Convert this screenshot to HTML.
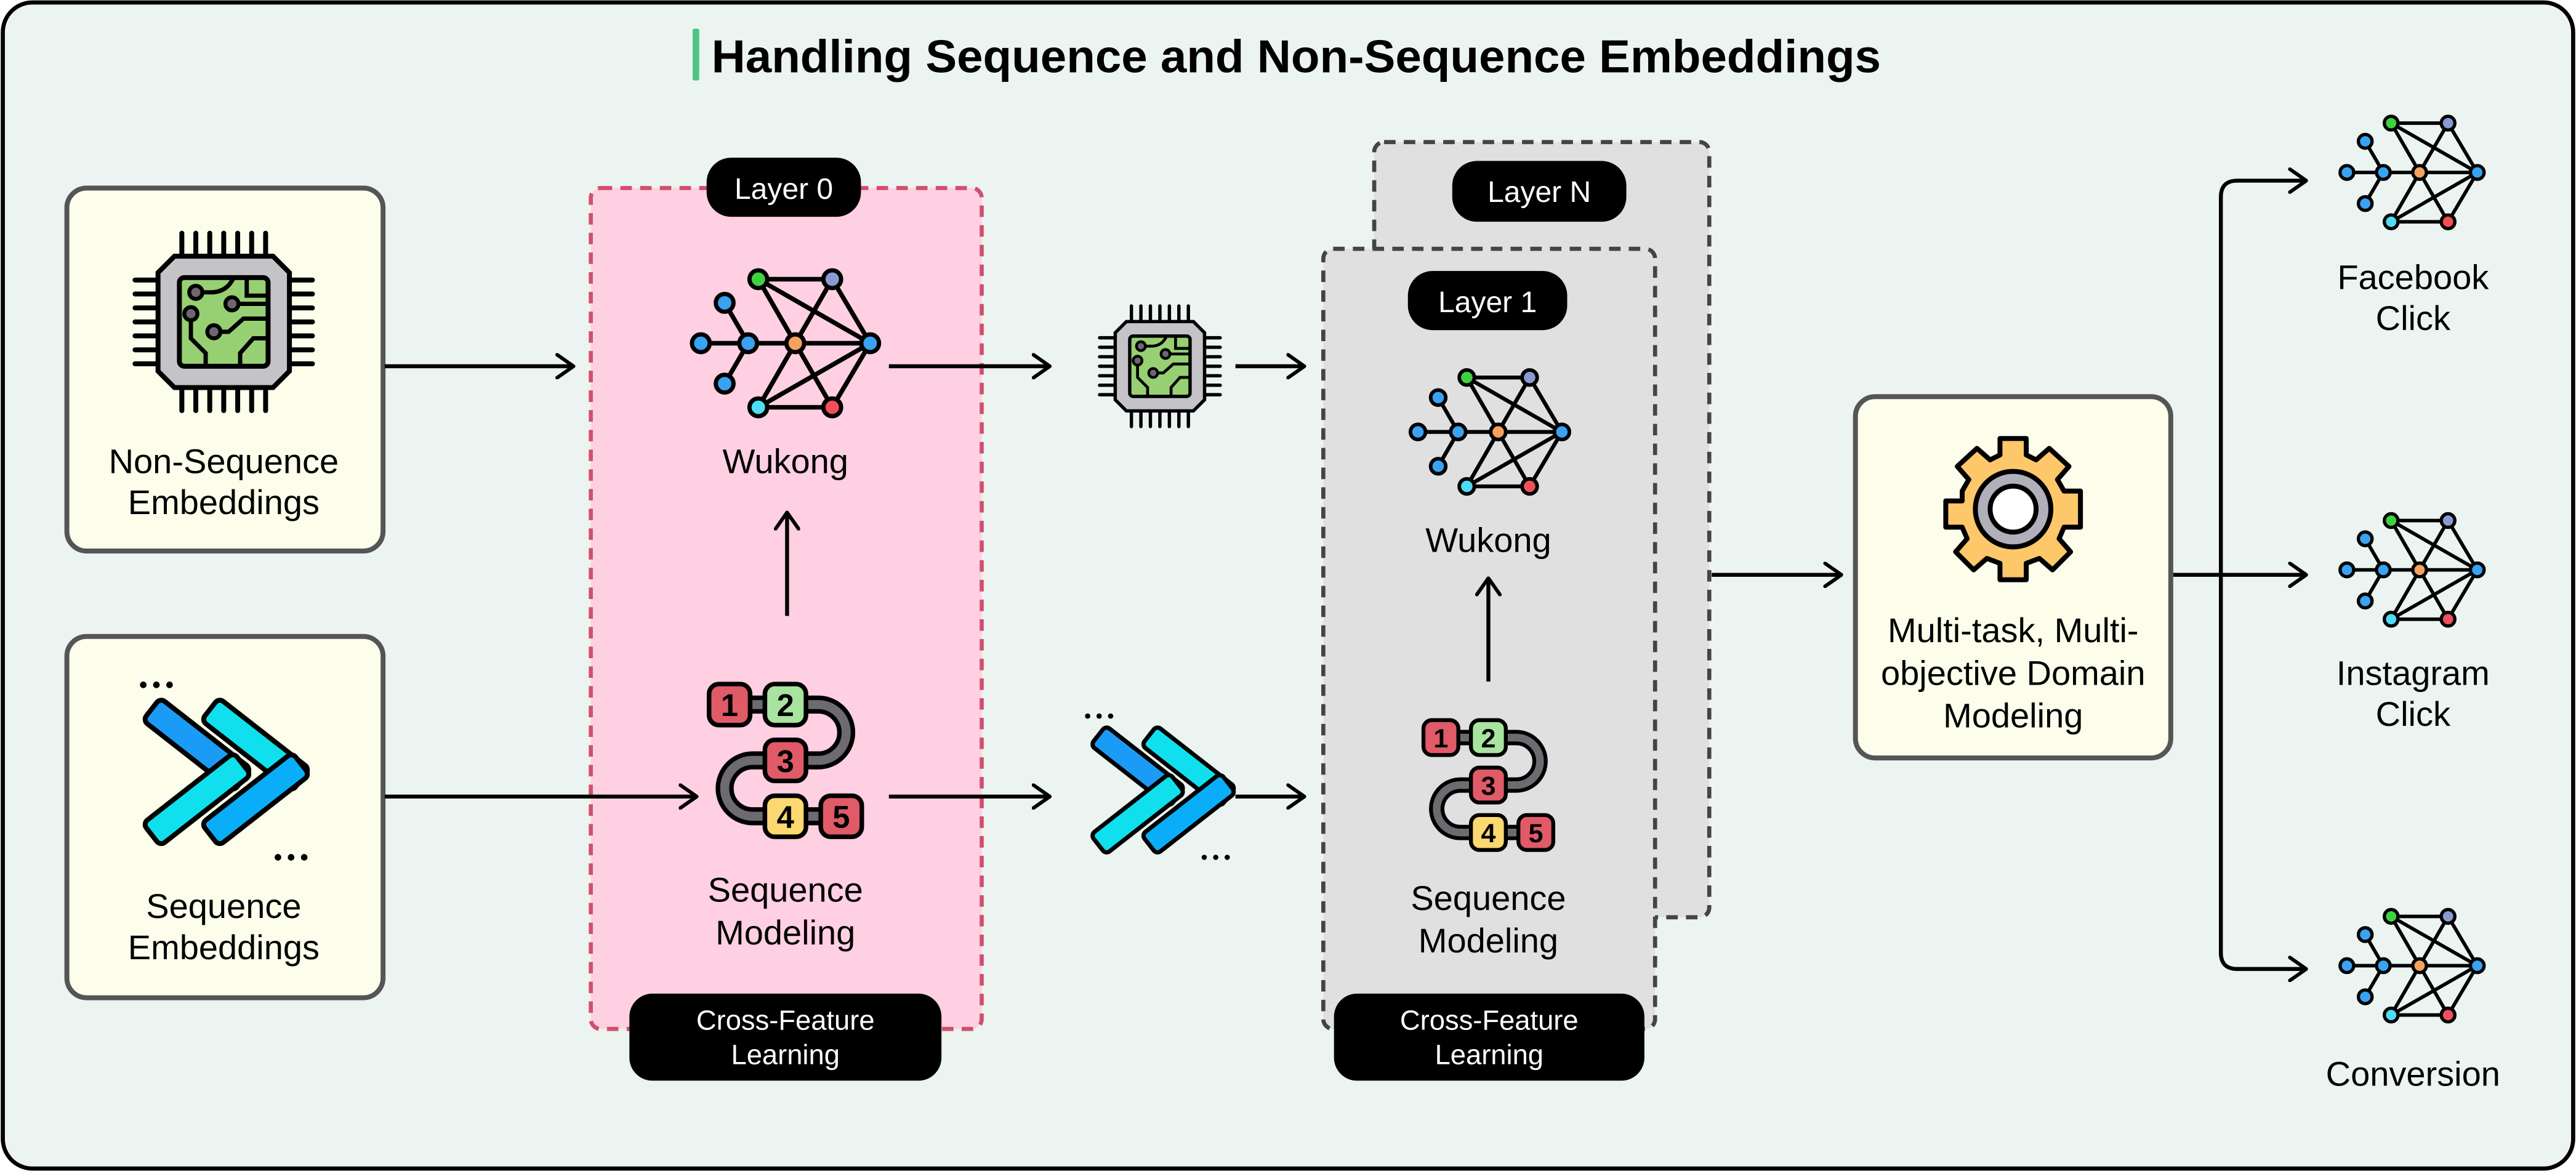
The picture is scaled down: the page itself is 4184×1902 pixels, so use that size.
<!DOCTYPE html>
<html><head><meta charset="utf-8"><style>
html,body{margin:0;padding:0;background:#fff;}
svg{display:block;}
text{font-family:"Liberation Sans",Arial,sans-serif;}
</style></head><body>
<svg width="4184" height="1902" viewBox="0 0 1568 713" xmlns="http://www.w3.org/2000/svg">
<defs>
<g id="net">
  <g stroke="#000" stroke-width="2.8" fill="none" stroke-linecap="round">
    <line x1="-22.5" y1="-39" x2="22.5" y2="-39"/>
    <line x1="-22.5" y1="-39" x2="0" y2="0"/>
    <line x1="-22.5" y1="-39" x2="45.6" y2="0"/>
    <line x1="22.5" y1="-39" x2="0" y2="0"/>
    <line x1="22.5" y1="-39" x2="45.6" y2="0"/>
    <line x1="0" y1="0" x2="45.6" y2="0"/>
    <line x1="0" y1="0" x2="-22.5" y2="39"/>
    <line x1="0" y1="0" x2="22.5" y2="39"/>
    <line x1="-22.5" y1="39" x2="45.6" y2="0"/>
    <line x1="22.5" y1="39" x2="45.6" y2="0"/>
    <line x1="-22.5" y1="39" x2="22.5" y2="39"/>
    <line x1="-28.7" y1="0" x2="0" y2="0"/>
    <line x1="-57.5" y1="0" x2="-28.7" y2="0"/>
    <line x1="-43" y1="-24.6" x2="-28.7" y2="0"/>
    <line x1="-43" y1="24.6" x2="-28.7" y2="0"/>
  </g>
  <g stroke="#000" stroke-width="2.6">
    <circle cx="-22.5" cy="-39" r="5.4" fill="#3fd23f"/>
    <circle cx="22.5" cy="-39" r="5.4" fill="#8a9ad0"/>
    <circle cx="0" cy="0" r="5.4" fill="#f5a260"/>
    <circle cx="45.6" cy="0" r="5.4" fill="#3aa2f2"/>
    <circle cx="-22.5" cy="39" r="5.4" fill="#4fdcf5"/>
    <circle cx="22.5" cy="39" r="5.4" fill="#f0505a"/>
    <circle cx="-28.7" cy="0" r="5.4" fill="#3aa2f2"/>
    <circle cx="-57.5" cy="0" r="5.4" fill="#3aa2f2"/>
    <circle cx="-43" cy="-24.6" r="5.4" fill="#3aa2f2"/>
    <circle cx="-43" cy="24.6" r="5.4" fill="#3aa2f2"/>
  </g>
</g>
<g id="chip">
  <g stroke="#000" stroke-width="3" stroke-linecap="round">
    <line x1="-25.5" y1="-54" x2="-25.5" y2="54"/><line x1="-17" y1="-54" x2="-17" y2="54"/>
    <line x1="-8.5" y1="-54" x2="-8.5" y2="54"/><line x1="0" y1="-54" x2="0" y2="54"/>
    <line x1="8.5" y1="-54" x2="8.5" y2="54"/><line x1="17" y1="-54" x2="17" y2="54"/>
    <line x1="25.5" y1="-54" x2="25.5" y2="54"/>
    <line y1="-25.5" x1="-54" y2="-25.5" x2="54"/><line y1="-17" x1="-54" y2="-17" x2="54"/>
    <line y1="-8.5" x1="-54" y2="-8.5" x2="54"/><line y1="0" x1="-54" y2="0" x2="54"/>
    <line y1="8.5" x1="-54" y2="8.5" x2="54"/><line y1="17" x1="-54" y2="17" x2="54"/>
    <line y1="25.5" x1="-54" y2="25.5" x2="54"/>
  </g>
  <polygon points="-30,-40 30,-40 40,-30 40,30 30,40 -30,40 -40,30 -40,-30" fill="#c4c4c8" stroke="#000" stroke-width="3"/>
  <rect x="-27" y="-27" width="54" height="54" rx="3" fill="#97d072" stroke="#000" stroke-width="3"/>
  <g stroke="#000" stroke-width="2.6" fill="none" stroke-linecap="round">
    <path d="M-17,-18 H-8 Q2,-18 6,-27"/>
    <path d="M14,-27 V-16 H27"/>
    <path d="M5,-11 H27"/>
    <path d="M-20,-5 V10 L-11,19 V27"/>
    <path d="M-6,6 H3 L12,-2 H27"/>
    <path d="M10,27 V19 L18,10 H27"/>
  </g>
  <g fill="#6e6670" stroke="#000" stroke-width="2.4">
    <circle cx="-17" cy="-18" r="4"/><circle cx="5" cy="-11" r="4"/>
    <circle cx="-20" cy="-5" r="4"/><circle cx="-6" cy="6" r="4"/>
  </g>
</g>
<g id="chev">
  <g stroke="#000" stroke-width="2.6" stroke-linejoin="round">
    <rect x="-54" y="-7.5" width="61" height="15" rx="3" fill="#1a9cf6" transform="rotate(38)"/>
    <rect x="-54" y="-7.5" width="61" height="15" rx="3" fill="#10e0ee" transform="rotate(-38)"/>
    <g transform="translate(31,0)">
      <rect x="-54" y="-7.5" width="61" height="15" rx="3" fill="#10e0ee" transform="rotate(38)"/>
      <rect x="-54" y="-7.5" width="61" height="15" rx="3" fill="#0aaef8" transform="rotate(-38)"/>
    </g>
  </g>
</g>
<g id="seq">
  <g fill="none" stroke-linecap="butt">
    <path d="M-34,-34 H20 A17,17 0 0 1 20,0 H-20 A17,17 0 0 0 -20,34 H34" stroke="#000" stroke-width="11"/>
    <path d="M-34,-34 H20 A17,17 0 0 1 20,0 H-20 A17,17 0 0 0 -20,34 H34" stroke="#6e6b70" stroke-width="5.5"/>
  </g>
  <g stroke="#000" stroke-width="2.8">
    <rect x="-46.5" y="-46.5" width="25" height="25" rx="6" fill="#e05a68"/>
    <rect x="-12.5" y="-46.5" width="25" height="25" rx="6" fill="#a8e4a0"/>
    <rect x="-12.5" y="-12.5" width="25" height="25" rx="6" fill="#e05a68"/>
    <rect x="-12.5" y="21.5" width="25" height="25" rx="6" fill="#fcd870"/>
    <rect x="21.5" y="21.5" width="25" height="25" rx="6" fill="#e05a68"/>
  </g>
  <g font-size="19" font-weight="bold" text-anchor="middle" fill="#000">
    <text x="-34" y="-27">1</text><text x="0" y="-27">2</text><text x="0" y="7">3</text>
    <text x="0" y="41">4</text><text x="34" y="41">5</text>
  </g>
</g>
<marker id="ah" viewBox="0 0 12 16" refX="11" refY="8" markerWidth="12" markerHeight="16" markerUnits="userSpaceOnUse" orient="auto">
  <path d="M1,1 L11,8 L1,15" fill="none" stroke="#000" stroke-width="2.2" stroke-linecap="round" stroke-linejoin="round"/>
</marker>
</defs>

<rect x="1.5" y="1.5" width="1565" height="710" rx="18" fill="#ebf4f0" stroke="#000" stroke-width="2.5"/>

<rect x="421.5" y="17.5" width="4" height="31.5" rx="1" fill="#4fc286"/>
<text x="433" y="44" font-size="28" font-weight="bold" textLength="712" lengthAdjust="spacingAndGlyphs">Handling Sequence and Non-Sequence Embeddings</text>

<rect x="40.5" y="114.5" width="192.5" height="221" rx="12" fill="#fdfdec" stroke="#555" stroke-width="3"/>
<rect x="40.5" y="387.5" width="192.5" height="220" rx="12" fill="#fdfdec" stroke="#555" stroke-width="3"/>
<use href="#chip" transform="translate(136,196)"/>
<text x="136" y="288" font-size="21" text-anchor="middle">Non-Sequence</text>
<text x="136" y="313" font-size="21" text-anchor="middle">Embeddings</text>
<use href="#chev" transform="translate(141,470) scale(1.15)"/>
<g fill="#000"><circle cx="87" cy="417" r="2"/><circle cx="95" cy="417" r="2"/><circle cx="103" cy="417" r="2"/>
<circle cx="169" cy="522" r="2"/><circle cx="177" cy="522" r="2"/><circle cx="185" cy="522" r="2"/></g>
<text x="136" y="559" font-size="21" text-anchor="middle">Sequence</text>
<text x="136" y="584" font-size="21" text-anchor="middle">Embeddings</text>

<rect x="836.5" y="86.5" width="204" height="472" rx="6" fill="#e0e0e0" stroke="#444" stroke-width="2.5" stroke-dasharray="7,5"/>
<rect x="884" y="98" width="106" height="37" rx="15" fill="#000"/>
<text x="937" y="123" font-size="18" fill="#fff" text-anchor="middle">Layer N</text>
<rect x="805.5" y="151.5" width="202" height="475" rx="6" fill="#e0e0e0" stroke="#444" stroke-width="2.5" stroke-dasharray="7,5"/>
<rect x="857" y="165" width="97" height="36" rx="15" fill="#000"/>
<text x="905.5" y="190" font-size="18" fill="#fff" text-anchor="middle">Layer 1</text>
<use href="#net" transform="translate(912,263) scale(0.85)"/>
<text x="906" y="336" font-size="21" text-anchor="middle">Wukong</text>
<line x1="906" y1="415" x2="906" y2="352" stroke="#000" stroke-width="2.4" marker-end="url(#ah)"/>
<use href="#seq" transform="translate(906,478) scale(0.85)"/>
<text x="906" y="554" font-size="21" text-anchor="middle">Sequence</text>
<text x="906" y="580" font-size="21" text-anchor="middle">Modeling</text>
<rect x="812" y="605" width="189" height="53" rx="14" fill="#000"/>
<text x="906.5" y="627" font-size="17" fill="#fff" text-anchor="middle">Cross-Feature</text>
<text x="906.5" y="648" font-size="17" fill="#fff" text-anchor="middle">Learning</text>

<rect x="359.5" y="114.5" width="238" height="512" rx="6" fill="#ffd0e2" stroke="#d0506c" stroke-width="2.5" stroke-dasharray="7,5"/>
<rect x="430" y="96" width="94" height="36" rx="15" fill="#000"/>
<text x="477" y="121" font-size="18" fill="#fff" text-anchor="middle">Layer 0</text>
<use href="#net" transform="translate(484,209)"/>
<text x="478" y="288" font-size="21" text-anchor="middle">Wukong</text>
<line x1="479" y1="375" x2="479" y2="312" stroke="#000" stroke-width="2.4" marker-end="url(#ah)"/>
<use href="#seq" transform="translate(478,463)"/>
<text x="478" y="549" font-size="21" text-anchor="middle">Sequence</text>
<text x="478" y="575" font-size="21" text-anchor="middle">Modeling</text>
<rect x="383" y="605" width="190" height="53" rx="14" fill="#000"/>
<text x="478" y="627" font-size="17" fill="#fff" text-anchor="middle">Cross-Feature</text>
<text x="478" y="648" font-size="17" fill="#fff" text-anchor="middle">Learning</text>

<g stroke="#000" stroke-width="2.4" fill="none" marker-end="url(#ah)">
<line x1="234" y1="223" x2="349" y2="223"/>
<line x1="234" y1="485" x2="424" y2="485"/>
<line x1="541" y1="223" x2="639" y2="223"/>
<line x1="752" y1="223" x2="794" y2="223"/>
<line x1="541" y1="485" x2="639" y2="485"/>
<line x1="752" y1="485" x2="794" y2="485"/>
<line x1="1042" y1="350" x2="1121" y2="350"/>
<line x1="1323" y1="350" x2="1404" y2="350"/>
<path d="M1352,120 Q1352,110 1362,110 H1404"/>
<path d="M1352,580 Q1352,590 1362,590 H1404"/>
</g>
<line x1="1352" y1="119" x2="1352" y2="581" stroke="#000" stroke-width="2.4"/>

<use href="#chip" transform="translate(706,223) scale(0.68)"/>
<use href="#chev" transform="translate(711,481)"/>
<g fill="#000"><circle cx="662" cy="436" r="1.6"/><circle cx="669" cy="436" r="1.6"/><circle cx="676" cy="436" r="1.6"/>
<circle cx="733" cy="522" r="1.6"/><circle cx="740" cy="522" r="1.6"/><circle cx="747" cy="522" r="1.6"/></g>

<rect x="1129.5" y="241.5" width="192" height="220" rx="12" fill="#fdfdec" stroke="#555" stroke-width="3"/>
<g transform="translate(1225.5,310)">
  <g stroke="#000" stroke-width="3" stroke-linejoin="round" fill="#fdc76a">
    <path d="M-8,-46 H8 V-36 L14,-33 L22,-40 L34,-29 L27,-21 L31,-14 L41,-14 V2 L41,8 L31,8 L28,15 L35,23 L24,34 L16,27 L8,30 V40 H-8 V30 L-16,27 L-24,34 L-35,23 L-28,15 L-31,8 L-41,8 V-8 L-31,-8 L-31,-14 L-27,-21 L-34,-29 L-22,-40 L-14,-33 L-8,-36 Z" transform="translate(0,3)"/>
  </g>
  <circle cx="0" cy="0" r="23" fill="#b0b0bc" stroke="#000" stroke-width="3"/>
  <circle cx="0" cy="0" r="14" fill="#fff" stroke="#000" stroke-width="3"/>
</g>
<text x="1225.5" y="391" font-size="21" text-anchor="middle">Multi-task, Multi-</text>
<text x="1225.5" y="417" font-size="21" text-anchor="middle">objective Domain</text>
<text x="1225.5" y="443" font-size="21" text-anchor="middle">Modeling</text>

<use href="#net" transform="translate(1473,105) scale(0.77)"/>
<use href="#net" transform="translate(1473,347) scale(0.77)"/>
<use href="#net" transform="translate(1473,588) scale(0.77)"/>
<text x="1469" y="176" font-size="21" text-anchor="middle">Facebook</text>
<text x="1469" y="201" font-size="21" text-anchor="middle">Click</text>
<text x="1469" y="417" font-size="21" text-anchor="middle">Instagram</text>
<text x="1469" y="442" font-size="21" text-anchor="middle">Click</text>
<text x="1469" y="661" font-size="21" text-anchor="middle">Conversion</text>
</svg>
</body></html>
